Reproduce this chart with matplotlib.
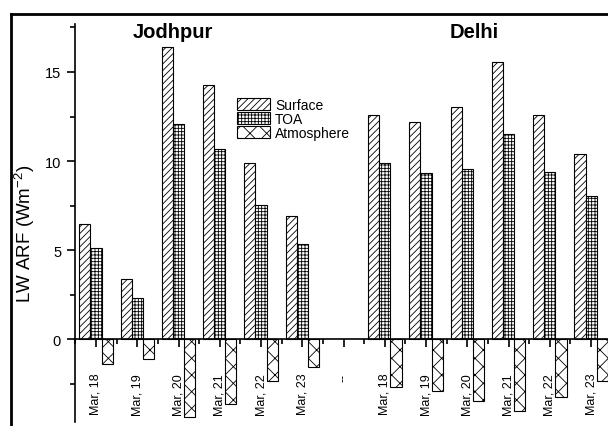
import numpy as np
import matplotlib
matplotlib.use("Agg")
import matplotlib.pyplot as plt
from matplotlib.lines import Line2D
from matplotlib.ticker import MultipleLocator

plt.rcParams['font.family'] = ['Liberation Sans', 'DejaVu Sans']
plt.rcParams['mathtext.fontset'] = 'custom'
plt.rcParams['mathtext.rm'] = 'Liberation Sans'
plt.rcParams['mathtext.default'] = 'regular'
plt.rcParams['hatch.linewidth'] = 0.6

# 数据
tick_labels = ["Mar, 18", "Mar, 19", "Mar, 20", "Mar, 21", "Mar, 22", "Mar, 23", "--",
               "Mar, 18", "Mar, 19", "Mar, 20", "Mar, 21", "Mar, 22", "Mar, 23"]
surface_jodhpur = [6.49, 3.40, 16.42, 14.26, 9.88, 6.92]
toa_jodhpur = [5.12, 2.35, 12.09, 10.66, 7.56, 5.37]
atmos_jodhpur = [-1.38, -1.10, -4.37, -3.62, -2.35, -1.55]
surface_delhi = [12.57, 12.18, 13.02, 15.55, 12.57, 10.42]
toa_delhi = [9.92, 9.35, 9.58, 11.53, 9.41, 8.04]
atmos_delhi = [-2.65, -2.91, -3.46, -4.04, -3.21, -2.35]

x_all = np.arange(len(tick_labels))
x_jod = x_all[:6]
x_del = x_all[7:]
w = 0.27

fig = plt.figure(figsize=(6.08, 4.27), dpi=100)
ax = fig.add_axes([75 / 608, 4 / 427, 533 / 608, 398 / 427])

bar_kw = dict(width=w, facecolor='white', edgecolor='black', linewidth=0.8)
for xs, s, t, a in [(x_jod, surface_jodhpur, toa_jodhpur, atmos_jodhpur),
                    (x_del, surface_delhi, toa_delhi, atmos_delhi)]:
    ax.bar(xs - w, s, hatch='/////', **bar_kw)
    ax.bar(xs, t, hatch='+++++', **bar_kw)
    ax.bar(xs + w, a, hatch='xx', **bar_kw)

ax.set_xlim(-0.509, 12.41)
ax.set_ylim(-4.63, 17.69)

# 坐标轴样式
ax.spines['top'].set_visible(False)
ax.spines['right'].set_visible(False)
ax.spines['bottom'].set_position(('data', 0))
ax.spines['left'].set_linewidth(1.2)
ax.spines['bottom'].set_linewidth(1.2)

ax.set_xticks(x_all)
ax.set_xticklabels(tick_labels, rotation=90, fontsize=9)
ax.xaxis.set_minor_locator(MultipleLocator(1, offset=0.5))
ax.tick_params(axis='x', which='major', direction='out', length=6, width=1.2, pad=18)
ax.tick_params(axis='x', which='minor', direction='out', length=3.5, width=1.2)

ax.set_yticks([0, 5, 10, 15])
ax.yaxis.set_minor_locator(MultipleLocator(2.5))
ax.tick_params(axis='y', which='major', direction='out', length=6, width=1.2, labelsize=10.5, pad=4)
ax.tick_params(axis='y', which='minor', direction='out', length=3.5, width=1.2)

ax.set_ylabel('LW ARF (Wm$^{-2}$)', fontsize=13.5)
ax.yaxis.set_label_coords(-0.071, 0.475)

# 城市标题
ax.text(0.184, 0.98, 'Jodhpur', transform=ax.transAxes, ha='center', va='center',
        fontsize=14.5, fontweight='bold')
ax.text(0.749, 0.98, 'Delhi', transform=ax.transAxes, ha='center', va='center',
        fontsize=14.5, fontweight='bold')

# 图例
handles = [plt.Rectangle((0, 0), 1, 1, facecolor='white', edgecolor='black', linewidth=0.8, hatch=h)
           for h in ['/////', '+++++', 'xx']]
fig.legend(handles, ['Surface', 'TOA', 'Atmosphere'], loc='upper left',
           bbox_to_anchor=(237 / 608, 1 - 99 / 427), frameon=False, fontsize=10,
           handlelength=2.4, handleheight=0.9, labelspacing=0.0, handletextpad=0.35,
           borderpad=0, borderaxespad=0)

# 外框
fig.add_artist(Line2D([11 / 608, 11 / 608], [0, 1 - 15 / 427], color='black', linewidth=2))
fig.add_artist(Line2D([11 / 608, 1], [1 - 15 / 427, 1 - 15 / 427], color='black', linewidth=2))

fig.savefig('out.png', dpi=100)
